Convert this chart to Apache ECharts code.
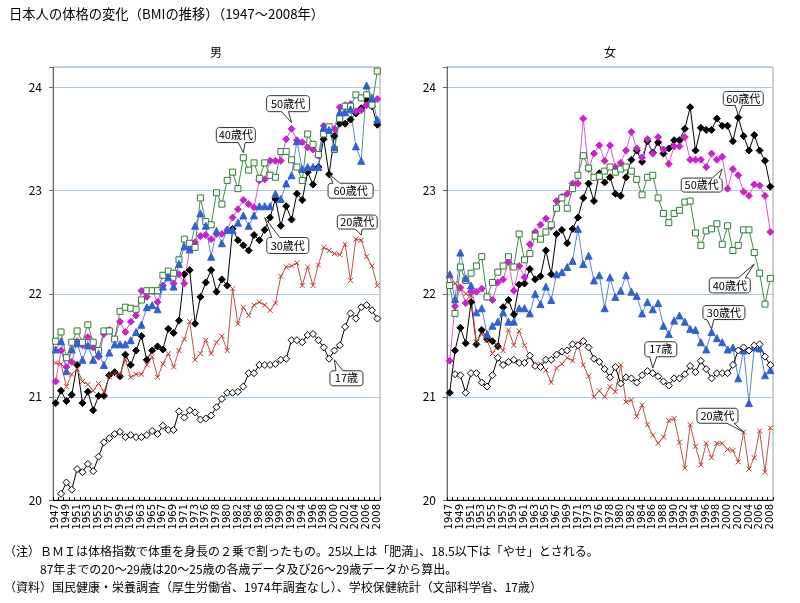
<!DOCTYPE html>
<html><head><meta charset="utf-8">
<script src="https://cdn.jsdelivr.net/npm/echarts@6/dist/echarts.min.js"></script>
<style>html,body{margin:0;padding:0;background:#fff}#c{width:800px;height:603px}</style>
</head><body><div id="c"></div>
<script>
const years = ['1947','1948','1949','1950','1951','1952','1953','1954','1955','1956','1957','1958','1959','1960','1961','1962','1963','1964','1965','1966','1967','1968','1969','1970','1971','1972','1973','1975','1976','1977','1978','1979','1980','1981','1982','1983','1984','1985','1986','1987','1988','1989','1990','1991','1992','1993','1994','1995','1996','1997','1998','1999','2000','2001','2002','2003','2004','2005','2006','2007','2008'];
const seriesNames = ['60歳代','50歳代','40歳代','30歳代','20歳代','17歳'];

// 男
const m17 = [null,20.06,20.17,20.10,20.30,20.27,20.35,20.28,20.42,20.56,20.60,20.64,20.66,20.61,20.63,20.61,20.61,20.63,20.67,20.64,20.72,20.68,20.68,20.86,20.80,20.87,20.85,
 20.78,20.79,20.82,20.90,20.98,21.04,21.04,21.05,21.10,21.23,21.23,21.31,21.31,21.31,21.32,21.36,21.37,21.55,21.55,21.53,21.60,21.61,21.55,21.48,21.37,21.45,21.50,21.68,21.81,21.76,21.87,21.89,21.84,21.76];
const m20 = [21.33,21.32,21.10,21.22,21.27,21.15,21.12,21.06,21.13,21.05,21.20,21.23,21.22,21.36,21.19,21.22,21.22,21.31,21.39,21.19,21.32,21.42,21.29,21.45,21.56,21.73,21.36,
 21.42,21.55,21.42,21.53,21.59,21.45,22.05,21.71,21.87,21.79,21.89,21.92,21.89,21.84,21.91,22.17,22.26,22.27,22.30,22.08,22.26,22.08,22.28,22.45,22.42,22.39,22.38,22.48,22.13,22.53,22.52,22.36,22.27,22.08];
const m30 = [21.46,21.54,21.25,21.46,21.52,21.36,21.50,21.36,21.42,21.31,21.43,21.51,21.51,21.51,21.55,21.63,21.70,21.87,21.89,21.85,22.07,22.16,22.07,22.29,22.46,22.43,22.66,
 22.78,22.66,22.36,22.61,22.49,22.62,22.62,22.69,22.76,22.66,22.76,22.85,22.85,22.85,22.97,22.92,23.07,23.15,23.48,23.21,23.23,23.23,23.23,23.61,23.59,23.42,23.76,23.76,23.79,23.43,23.29,24.02,23.90,23.69];
const m40 = [21.54,21.63,21.38,21.53,21.64,21.53,21.70,21.53,21.45,21.64,21.64,21.56,21.83,21.87,21.86,21.85,21.94,22.03,22.03,22.03,22.18,22.22,22.20,22.33,22.53,22.49,22.45,
 22.93,22.70,22.67,22.98,22.87,23.10,23.18,23.02,23.32,23.20,23.27,23.12,23.27,23.15,23.13,23.38,23.38,23.30,23.23,23.10,23.55,23.45,23.35,23.55,23.62,23.40,23.70,23.82,23.82,23.93,23.90,23.93,23.83,24.16];
const m50 = [21.15,21.45,21.29,21.34,21.54,21.50,21.58,21.48,21.39,21.61,21.65,21.56,21.73,21.63,21.73,21.79,22.03,21.97,22.03,21.92,22.08,22.18,22.10,22.19,22.10,22.44,22.50,
 22.56,22.57,22.53,22.58,22.58,22.62,22.74,22.82,22.91,22.87,22.84,23.10,23.11,23.29,23.29,23.29,23.50,23.60,23.49,23.47,23.42,23.40,23.34,23.63,23.59,23.60,23.81,23.83,23.84,23.77,23.78,23.83,23.86,23.89];
const m60 = [20.94,21.06,20.96,21.02,21.31,20.94,21.05,20.87,21.01,21.01,21.21,21.24,21.20,21.41,21.31,21.45,21.59,21.36,21.45,21.49,21.46,21.66,21.62,21.74,22.19,22.23,21.71,
 21.97,22.11,22.23,22.02,22.14,22.08,22.63,22.52,22.47,22.42,22.57,22.52,22.62,22.74,22.92,22.66,22.85,22.72,22.97,22.91,23.18,23.06,23.23,23.50,23.16,23.53,23.65,23.65,23.69,23.75,23.80,23.88,23.82,23.64];

// 女
const f17 = [null,21.22,21.21,21.04,21.23,21.23,21.14,21.10,21.21,21.38,21.31,21.34,21.36,21.33,21.33,21.40,21.30,21.29,21.36,21.36,21.41,21.44,21.45,21.51,21.50,21.54,21.48,
 21.37,21.34,21.27,21.19,21.29,21.13,21.19,21.18,21.14,21.21,21.25,21.23,21.20,21.15,21.11,21.18,21.18,21.22,21.30,21.24,21.35,21.27,21.18,21.23,21.23,21.23,21.31,21.45,21.48,21.45,21.50,21.51,21.39,21.31];
const f20 = [22.18,22.10,22.05,22.00,21.98,21.53,21.61,21.55,21.42,21.50,21.45,21.65,21.50,21.64,21.50,21.39,21.31,21.32,21.26,21.14,21.28,21.32,21.38,21.35,21.52,21.31,21.20,
 21.00,21.06,21.00,21.10,21.05,21.31,20.95,20.97,20.81,20.92,20.73,20.63,20.55,20.61,20.77,20.79,20.56,20.31,20.73,20.52,20.34,20.55,20.41,20.55,20.55,20.49,20.48,20.37,20.66,20.30,20.41,20.67,20.27,20.70];
const f30 = [22.19,21.95,22.40,22.15,22.08,21.82,21.86,21.61,21.69,21.73,21.82,21.73,21.73,21.86,21.86,21.81,22.00,21.90,22.07,21.94,22.19,22.21,22.26,22.32,22.63,22.29,22.37,
 22.13,22.18,21.86,22.16,21.97,22.03,22.18,22.02,21.98,21.81,21.92,21.85,21.91,21.69,21.61,21.74,21.79,21.73,21.66,21.65,21.53,21.46,21.63,21.57,21.53,21.46,21.48,21.18,21.45,20.94,21.48,21.47,21.21,21.26];
const f40 = [22.08,21.81,22.26,22.13,22.20,22.27,22.36,21.97,22.11,22.21,22.27,22.36,22.26,22.58,22.33,22.39,22.56,22.53,22.60,22.67,22.83,22.93,22.83,23.02,23.15,23.34,23.22,
 23.13,23.14,23.19,23.23,23.18,23.21,23.23,23.19,23.11,22.96,23.13,23.15,22.93,22.78,22.69,22.78,22.81,22.89,22.90,22.59,22.47,22.61,22.63,22.68,22.48,22.66,22.42,22.47,22.62,22.62,22.40,22.20,21.90,22.15];
const f50 = [21.35,21.88,22.06,21.91,22.02,22.02,22.05,21.97,21.94,22.11,22.14,22.31,22.03,22.27,22.16,22.48,22.60,22.67,22.73,22.65,22.90,22.94,22.97,23.07,23.07,23.70,23.21,
 23.36,23.44,23.29,23.44,23.23,23.27,23.39,23.57,23.41,23.32,23.50,23.36,23.52,23.40,23.26,23.43,23.43,23.52,23.30,23.30,23.30,23.23,23.36,23.30,23.33,23.02,23.21,23.15,22.99,22.95,23.06,23.05,22.95,22.60];
const f60 = [21.04,21.45,21.67,21.52,21.92,21.51,21.65,21.56,21.54,21.49,21.87,21.94,21.80,22.09,22.10,22.24,22.14,22.17,22.42,22.19,22.58,22.62,22.49,22.63,22.74,22.93,23.07,
 22.90,23.17,23.08,23.13,22.97,22.95,23.13,23.30,23.39,23.28,23.48,23.37,23.47,23.36,23.41,23.49,23.49,23.60,23.81,23.39,23.61,23.59,23.59,23.70,23.63,23.63,23.48,23.71,23.53,23.39,23.54,23.39,23.29,23.04];

const yTicks = [20,21,22,23,24];
const panelTitles = ['男','女'];

const FONT = '"Noto Sans CJK JP","Noto Sans",sans-serif';
const styles = {
  '60歳代': {symbol:'diamond', size:7, fill:'#000', border:'#000', line:'#000'},
  '50歳代': {symbol:'diamond', size:7, fill:'#CC22CC', border:'#CC22CC', line:'#D060D0'},
  '40歳代': {symbol:'rect', size:6, fill:'#fff', border:'#2E7D32', line:'#3F8F3F'},
  '30歳代': {symbol:'triangle', size:7, fill:'#2F62D0', border:'#2F62D0', line:'#5B86D4'},
  '20歳代': {symbol:'path://M0,0L10,10M10,0L0,10', size:5, fill:'none', border:'#C0392B', line:'#C05050'},
  '17歳':  {symbol:'diamond', size:7, fill:'#fff', border:'#000', line:'#000'}
};
const dataM = {'60歳代':m60,'50歳代':m50,'40歳代':m40,'30歳代':m30,'20歳代':m20,'17歳':m17};
const dataF = {'60歳代':f60,'50歳代':f50,'40歳代':f40,'30歳代':f30,'20歳代':f20,'17歳':f17};

function mk(name, data, gi){
  const s = styles[name];
  return {type:'line', name:name, data:data, xAxisIndex:gi, yAxisIndex:gi,
    symbol:s.symbol, symbolSize:s.size, showAllSymbol:true, animation:false,
    lineStyle:{color:s.line, width:1},
    itemStyle:{color:s.fill, borderColor:s.border, borderWidth:1},
    emphasis:{disabled:true}};
}
const series = [];
seriesNames.forEach(n => series.push(mk(n, dataM[n], 0)));
seriesNames.forEach(n => series.push(mk(n, dataF[n], 1)));

function xAx(gi){
  return {type:'category', data:years, gridIndex:gi, boundaryGap:true,
    axisLine:{lineStyle:{color:'#000', width:1}},
    axisTick:{show:true, inside:true, length:3, interval:0, lineStyle:{color:'#000'}},
    axisLabel:{rotate:90, interval:1, fontSize:10, margin:4, color:'#000', fontFamily:'"DejaVu Sans",sans-serif'},
    splitLine:{show:false}};
}
function yAx(gi){
  return {type:'value', gridIndex:gi, min:yTicks[0], max:24.2, interval:1,
    axisLine:{show:true, lineStyle:{color:'#666'}},
    axisTick:{show:true, length:4, lineStyle:{color:'#666'}},
    axisLabel:{fontSize:12, color:'#000', margin:11, fontFamily:FONT,
      formatter: v => yTicks.indexOf(v) >= 0 ? String(v) : ''},
    splitLine:{lineStyle:{color:'#A9CCE6', width:1}}};
}

const chart = echarts.init(document.getElementById('c'), null, {renderer:'canvas'});
chart.setOption({
  backgroundColor:'#fff',
  animation:false,
  grid:[
    {left:53, top:67, width:327, height:433, show:true, borderColor:'#A0A0A0', borderWidth:1, backgroundColor:'transparent'},
    {left:447, top:67, width:326, height:433, show:true, borderColor:'#A0A0A0', borderWidth:1, backgroundColor:'transparent'}
  ],
  xAxis:[xAx(0), xAx(1)],
  yAxis:[yAx(0), yAx(1)],
  series: series
});

// callouts anchored to data coordinates
const callouts = [
  {g:0, t:'50歳代', cat:'1992', v:23.66, dx:-25, dy:-27, w:43, h:16, side:'bottom', b0:15, b1:22},
  {g:0, t:'40歳代', cat:'1983', v:23.37, dx:-27, dy:-25, w:39, h:15, side:'bottom', b0:22, b1:29},
  {g:0, t:'60歳代', cat:'1999', v:23.16, dx:-1, dy:9, w:45, h:15, side:'top', b0:5, b1:12},
  {g:0, t:'30歳代', cat:'1987', v:22.74, dx:2, dy:20, w:42, h:16, side:'top', b0:5, b1:13},
  {g:0, t:'20歳代', cat:'2005', v:22.57, dx:-24, dy:-20, w:40, h:14, side:'bottom', b0:18, b1:25},
  {g:0, t:'17歳', cat:'2000', v:21.36, dx:-4.5, dy:11, w:33, h:15, side:'top', b0:6, b1:13},
  {g:1, t:'60歳代', cat:'2002', v:23.73, dx:-15, dy:-24, w:40, h:14, side:'bottom', b0:12, b1:19},
  {g:1, t:'50歳代', cat:'1999', v:23.21, dx:-41, dy:9, w:41, h:14, side:'top', b0:31, b1:38},
  {g:1, t:'40歳代', cat:'2005', v:22.29, dx:-45, dy:14, w:41, h:15, side:'top', b0:29, b1:36},
  {g:1, t:'30歳代', cat:'1997', v:21.66, dx:-8.6, dy:-23.3, w:42, h:14, side:'bottom', b0:4, b1:11},
  {g:1, t:'17歳', cat:'1986', v:21.28, dx:-8, dy:-26.3, w:32, h:15, side:'bottom', b0:5, b1:12},
  {g:1, t:'20歳代', cat:'2003', v:20.66, dx:-46.6, dy:-23.7, w:41, h:15, side:'bottom', b0:30, b1:37}
];

function calloutPoints(x0,y0,w,h,side,b0,b1,tx,ty){
  const x1=x0+w, y1=y0+h, r=3, pts=[];
  const arc=(cx,cy,a0,a1)=>{for(let k=0;k<=4;k++){const a=a0+(a1-a0)*k/4;pts.push([cx+r*Math.cos(a),cy+r*Math.sin(a)]);}};
  arc(x0+r,y0+r,Math.PI,1.5*Math.PI);
  if(side==='top'){pts.push([x0+b0,y0],[tx,ty],[x0+b1,y0]);}
  arc(x1-r,y0+r,1.5*Math.PI,2*Math.PI);
  arc(x1-r,y1-r,0,0.5*Math.PI);
  if(side==='bottom'){pts.push([x0+b1,y1],[tx,ty],[x0+b0,y1]);}
  arc(x0+r,y1-r,0.5*Math.PI,Math.PI);
  return pts;
}

const graphics = [];
callouts.forEach(c => {
  const p = chart.convertToPixel({gridIndex:c.g}, [c.cat, c.v]);
  const x0 = p[0]+c.dx, y0 = p[1]+c.dy;
  graphics.push({type:'polygon', z:100, shape:{points:calloutPoints(x0,y0,c.w,c.h,c.side,c.b0,c.b1,p[0],p[1])},
    style:{fill:'#fff', stroke:'#333', lineWidth:1}});
  graphics.push({type:'text', z:101, x:x0+c.w/2, y:y0+c.h/2,
    style:{text:c.t, fill:'#000', font:'11px '+FONT, textAlign:'center', textVerticalAlign:'middle'}});
});

// titles and notes
graphics.push({type:'text', z:50, left:9, top:7, style:{text:'日本人の体格の変化（BMIの推移）（1947～2008年）', fill:'#000', font:'13.3px '+FONT}});
graphics.push({type:'text', z:50, x:216, y:52, style:{text:panelTitles[0], fill:'#000', font:'12px '+FONT, textAlign:'center', textVerticalAlign:'middle'}});
graphics.push({type:'text', z:50, x:610, y:52, style:{text:panelTitles[1], fill:'#000', font:'12px '+FONT, textAlign:'center', textVerticalAlign:'middle'}});
const notes = [
  '（注）ＢＭＩは体格指数で体重を身長の２乗で割ったもの。25以上は「肥満」、18.5以下は「やせ」とされる。',
  '　　　87年までの20～29歳は20～25歳の各歳データ及び26～29歳データから算出。',
  '（資料）国民健康・栄養調査（厚生労働省、1974年調査なし）、学校保健統計（文部科学省、17歳）'
];
notes.forEach((t,i) => graphics.push({type:'text', z:50, x:4, y:551+i*18,
  style:{text:t, fill:'#000', font:'12px '+FONT, textVerticalAlign:'middle'}}));

chart.setOption({graphic: graphics});
</script>
</body></html>
